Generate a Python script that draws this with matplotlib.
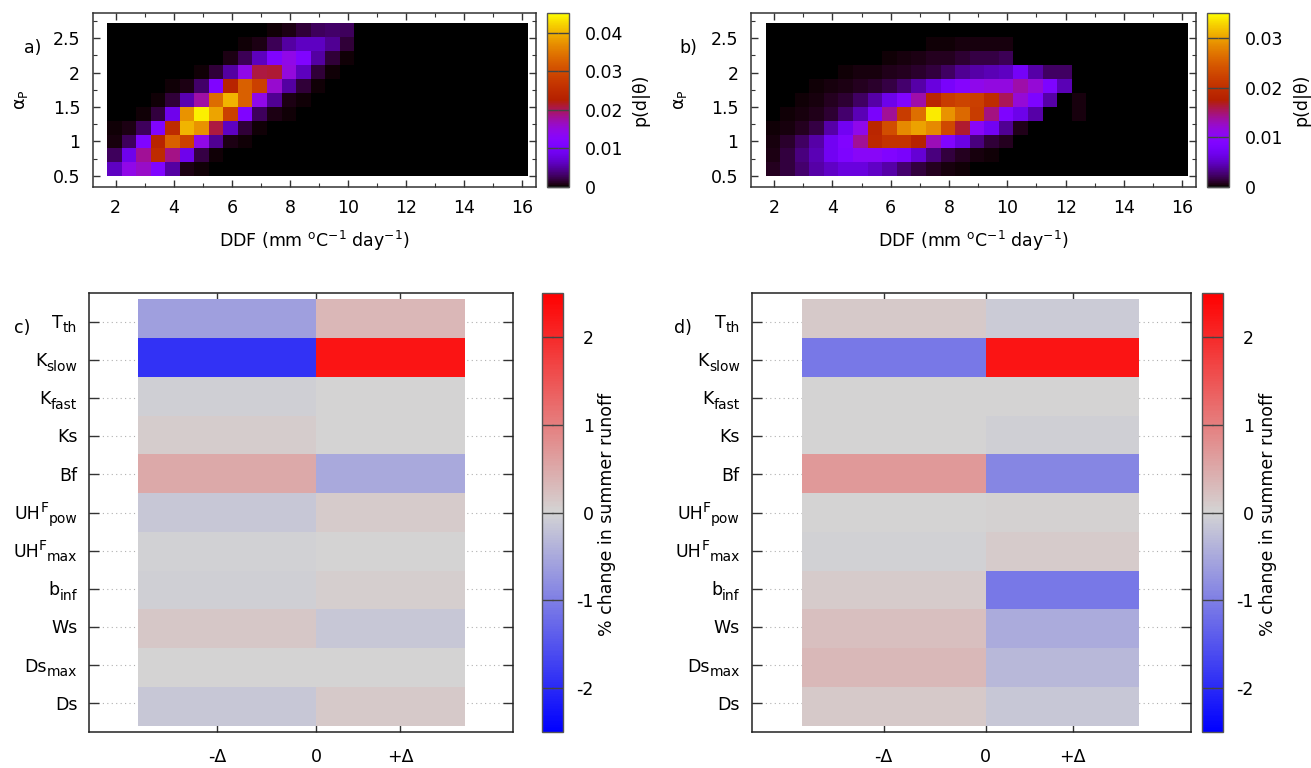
import numpy as np
import matplotlib
matplotlib.use('Agg')
import matplotlib.pyplot as plt
from matplotlib.colors import LinearSegmentedColormap
from matplotlib.ticker import MultipleLocator
from matplotlib.transforms import IdentityTransform

plt.rcParams['font.family'] = ['DejaVu Sans']
plt.rcParams['mathtext.fontset'] = 'dejavusans'
FS = 12.5

# ---------------- data: posterior p(d|theta), rows = alpha_P (0.6 .. 2.6), cols = DDF bins ----------------
pa_rows = [
    [.0063, .0144, .0160, .0113, .0050, .0007, .0002, .0001, 0, 0, 0, 0, 0, 0, 0, 0, 0, 0, 0, 0, 0, 0, 0, 0, 0, 0, 0, 0, 0],
    [.0028, .0086, .0180, .0248, .0185, .0086, .0020, .0002, .0001, 0, 0, 0, 0, 0, 0, 0, 0, 0, 0, 0, 0, 0, 0, 0, 0, 0, 0, 0, 0],
    [.0005, .0028, .0113, .0234, .0324, .0284, .0144, .0045, .0007, .0002, 0, 0, 0, 0, 0, 0, 0, 0, 0, 0, 0, 0, 0, 0, 0, 0, 0, 0, 0],
    [.0002, .0007, .0028, .0113, .0248, .0400, .0374, .0207, .0063, .0016, .0002, 0, 0, 0, 0, 0, 0, 0, 0, 0, 0, 0, 0, 0, 0, 0, 0, 0, 0],
    [0, 0, .0002, .0018, .0086, .0374, .0440, .0387, .0284, .0113, .0028, .0007, .0002, 0, 0, 0, 0, 0, 0, 0, 0, 0, 0, 0, 0, 0, 0, 0, 0],
    [0, 0, 0, .0002, .0016, .0055, .0175, .0338, .0400, .0324, .0144, .0045, .0007, .0002, 0, 0, 0, 0, 0, 0, 0, 0, 0, 0, 0, 0, 0, 0, 0],
    [0, 0, 0, 0, .0002, .0007, .0030, .0113, .0234, .0324, .0284, .0158, .0050, .0016, .0002, 0, 0, 0, 0, 0, 0, 0, 0, 0, 0, 0, 0, 0, 0],
    [0, 0, 0, 0, 0, 0, .0002, .0016, .0050, .0144, .0207, .0210, .0150, .0060, .0016, .0003, .0001, 0, 0, 0, 0, 0, 0, 0, 0, 0, 0, 0, 0],
    [0, 0, 0, 0, 0, 0, 0, 0, .0007, .0025, .0060, .0113, .0144, .0113, .0050, .0016, .0002, 0, 0, 0, 0, 0, 0, 0, 0, 0, 0, 0, 0],
    [0, 0, 0, 0, 0, 0, 0, 0, 0, .0002, .0007, .0025, .0050, .0063, .0063, .0045, .0016, 0, 0, 0, 0, 0, 0, 0, 0, 0, 0, 0, 0],
    [0, 0, 0, 0, 0, 0, 0, 0, 0, 0, 0, .0002, .0007, .0016, .0028, .0030, .0028, 0, 0, 0, 0, 0, 0, 0, 0, 0, 0, 0, 0],
]

pb_rows = [
    [.0008, .0015, .0025, .0040, .0050, .0060, .0060, .0050, .0040, .0025, .0015, .0008, .0004, .0002, .0001, 0, 0, 0, 0, 0, 0, 0, 0, 0, 0, 0, 0, 0, 0],
    [.0005, .0015, .0030, .0045, .0070, .0085, .0100, .0100, .0090, .0080, .0055, .0030, .0015, .0008, .0004, .0002, .0001, 0, 0, 0, 0, 0, 0, 0, 0, 0, 0, 0, 0],
    [.0004, .0010, .0022, .0040, .0070, .0090, .0140, .0190, .0205, .0205, .0180, .0130, .0090, .0062, .0030, .0013, .0008, 0, 0, 0, 0, 0, 0, 0, 0, 0, 0, 0, 0],
    [.0002, .0004, .0008, .0016, .0040, .0070, .0110, .0185, .0235, .0285, .0300, .0285, .0230, .0165, .0100, .0070, .0035, .0006, 0, 0, 0, 0, 0, 0, 0, 0, 0, 0, 0],
    [.0001, .0002, .0003, .0006, .0012, .0025, .0045, .0080, .0140, .0215, .0265, .0340, .0290, .0260, .0215, .0145, .0085, .0065, .0040, 0, 0, .0003, 0, 0, 0, 0, 0, 0, 0],
    [0, .0001, .0002, .0004, .0007, .0012, .0022, .0040, .0065, .0090, .0135, .0185, .0215, .0225, .0220, .0195, .0155, .0120, .0085, .0040, 0, .0003, 0, 0, 0, 0, 0, 0, 0],
    [0, 0, .0001, .0002, .0003, .0005, .0007, .0010, .0016, .0025, .0040, .0060, .0078, .0095, .0110, .0115, .0115, .0135, .0120, .0085, .0045, 0, 0, 0, 0, 0, 0, 0, 0],
    [0, 0, 0, 0, .0001, .0002, .0003, .0004, .0006, .0008, .0010, .0015, .0022, .0035, .0040, .0045, .0048, .0075, .0040, .0022, .0022, 0, 0, 0, 0, 0, 0, 0, 0],
    [0, 0, 0, 0, 0, 0, 0, .0001, .0002, .0003, .0005, .0007, .0008, .0012, .0016, .0016, .0020, 0, 0, 0, 0, 0, 0, 0, 0, 0, 0, 0, 0],
    [0, 0, 0, 0, 0, 0, 0, 0, 0, 0, .0001, .0002, .0002, .0003, .0004, .0004, .0003, 0, 0, 0, 0, 0, 0, 0, 0, 0, 0, 0, 0],
    [0] * 29,
]

# ---------------- data: sensitivity (% change in summer runoff) ----------------
# each parameter label as (text, kind) pieces: n = normal, sub = subscript, sup = superscript
params = [
    [('T', 'n'), ('th', 'sub')],
    [('K', 'n'), ('slow', 'sub')],
    [('K', 'n'), ('fast', 'sub')],
    [('Ks', 'n')],
    [('Bf', 'n')],
    [('UH', 'n'), ('F', 'sup'), ('pow', 'sub')],
    [('UH', 'n'), ('F', 'sup'), ('max', 'sub')],
    [('b', 'n'), ('inf', 'sub')],
    [('Ws', 'n')],
    [('Ds', 'n'), ('max', 'sub')],
    [('Ds', 'n')],
]
c_minus = [-0.62, -1.90, -0.05, 0.08, 0.50, -0.15, -0.03, -0.05, 0.15, 0.00, -0.15]
c_plus = [0.35, 2.25, 0.00, 0.00, -0.50, 0.10, 0.00, 0.07, -0.15, 0.00, 0.12]
d_minus = [0.12, -1.08, 0.00, 0.00, 0.70, 0.00, -0.02, 0.10, 0.24, 0.33, 0.12]
d_plus = [-0.10, 2.25, 0.00, -0.05, -0.90, 0.02, 0.10, -1.08, -0.47, -0.33, -0.15]
delta_labels = ['-Δ', '0', '+Δ']

# ---------------- layout ----------------
W, H = 1311, 768
fig = plt.figure(figsize=(W / 100, H / 100), dpi=100)
renderer = fig.canvas.get_renderer()
FRAME = '#333333'


def ax_px(l, t, r, b):
    return fig.add_axes([l / W, 1 - b / H, (r - l) / W, (b - t) / H])


def ftext(x, y, s, **kw):
    kw.setdefault('fontsize', FS)
    kw.setdefault('ha', 'center')
    kw.setdefault('va', 'center')
    fig.text(x / W, 1 - y / H, s, **kw)


def rich_label(x_right, y_base, pieces):
    """Right-aligned label in display pixels (origin bottom-left), gnuplot-style sub/superscripts."""
    x = x_right
    for text, kind in reversed(pieces):
        if kind == 'n':
            size, dy = FS, 0
        elif kind == 'sub':
            size, dy = FS * 0.8, -4.5
        else:
            size, dy = FS * 0.8, 6.5
        t = fig.text(x, y_base + dy, text, fontsize=size, ha='right', va='baseline',
                     transform=IdentityTransform())
        w = t.get_window_extent(renderer).width
        x -= w


ddf_edges = np.linspace(1.71, 16.21, 30)
alpha_edges = np.linspace(0.49, 2.72, 12)


def top_panel(l, r, data, vmax, cb_l, cb_ticks, letter, lx, ylab_x, cblab_x):
    ax = ax_px(l, 12.7, r, 186.7)
    m = ax.pcolormesh(ddf_edges, alpha_edges, np.array(data), cmap='gnuplot',
                      vmin=0, vmax=vmax, shading='flat')
    ax.set_xlim(1.21, 16.47)
    ax.set_ylim(0.34, 2.87)
    ax.xaxis.set_major_locator(MultipleLocator(2))
    ax.xaxis.set_minor_locator(MultipleLocator(1))
    ax.set_yticks([0.5, 1, 1.5, 2, 2.5])
    ax.set_yticklabels(['0.5', '1', '1.5', '2', '2.5'])
    ax.yaxis.set_minor_locator(MultipleLocator(0.25))
    ax.tick_params(which='both', direction='in', top=True, right=True, color=FRAME, labelsize=FS)
    ax.tick_params(which='major', length=5, width=1)
    ax.tick_params(which='minor', length=3, width=0.8)
    ax.tick_params(axis='x', pad=9)
    ax.tick_params(axis='y', pad=9)
    for s in ax.spines.values():
        s.set_color(FRAME)
        s.set_linewidth(1.1)
    cax = ax_px(cb_l, 13.3, cb_l + 22.6, 186.7)
    cb = fig.colorbar(m, cax=cax)
    cb.set_ticks(cb_ticks)
    cb.set_ticklabels(['%g' % t for t in cb_ticks])
    cax.tick_params(direction='in', length=8, width=1, color='#444444', left=True, right=True,
                    labelsize=FS, pad=11)
    cb.outline.set_edgecolor('#555555')
    cb.outline.set_linewidth(1.0)
    ftext(lx, 48, letter)
    ftext(ylab_x, 100, r'$\mathregular{α_{P}}$', rotation=90)
    ftext(cblab_x, 100, 'p(d|θ)', rotation=90)
    ftext((l + r) / 2, 241, r'DDF (mm $\mathregular{^{o}}$C$\mathregular{^{-1}}$ day$\mathregular{^{-1}}$)')
    return ax


top_panel(92.7, 536, pa_rows, 0.045, 546.7, [0, 0.01, 0.02, 0.03, 0.04], 'a)', 33, 21, 640)
top_panel(751, 1196, pb_rows, 0.035, 1206.7, [0, 0.01, 0.02, 0.03], 'b)', 688, 680, 1301)

# ---------------- bottom panels ----------------
sens_cmap = LinearSegmentedColormap.from_list('bgr', [(0, 0, 1), (0.83, 0.83, 0.83), (1, 0, 0)])
x_edges = [-1.2, 0.0, 1.0]
y_edges = np.linspace(-0.58, 10.58, 12)
x_tick_pos = [-0.665, 0.0, 0.565]


def bottom_panel(l, r, minus, plus, cb_l, letter, lx, cblab_x):
    ax = ax_px(l, 293.3, r, 731.7)
    z = np.column_stack([minus, plus])
    m = ax.pcolormesh(x_edges, y_edges, z, cmap=sens_cmap, vmin=-2.5, vmax=2.5, shading='flat')
    ax.set_xlim(-1.525, 1.325 if r < 600 else 1.335)
    ax.set_ylim(10.74, -0.74)
    ax.set_yticks(range(len(params)))
    ax.set_yticklabels([])
    ax.set_xticks(x_tick_pos)
    ax.set_xticklabels(delta_labels)
    ax.yaxis.grid(True, linestyle=(0, (1, 3)), color='#b0b0b0', linewidth=0.8)
    ax.set_axisbelow(True)
    ax.tick_params(axis='y', direction='in', length=7, width=1, left=True, right=True,
                   color=FRAME, labelsize=FS, pad=8.5)
    ax.tick_params(axis='x', direction='in', length=5, width=1, top=True, bottom=True,
                   color=FRAME, labelsize=FS, pad=12)
    for s in ax.spines.values():
        s.set_color('#222222')
        s.set_linewidth(1.1)
    # parameter names as tick labels
    for i, pieces in enumerate(params):
        _, yd = ax.transData.transform((0, i))
        rich_label(l - 12.0, yd - 6.3, pieces)
    cax = ax_px(cb_l, 293.3, cb_l + 21.6, 731.7)
    cb = fig.colorbar(m, cax=cax)
    ticks = [-2, -1, 0, 1, 2]
    cb.set_ticks(ticks)
    cb.set_ticklabels(['%g' % t for t in ticks])
    cax.tick_params(direction='in', length=8, width=1, color='#444444', left=True, right=True,
                    labelsize=FS, pad=22)
    for t in cax.get_yticklabels():
        t.set_horizontalalignment('right')
    cb.outline.set_edgecolor('#555555')
    cb.outline.set_linewidth(1.0)
    ftext(lx, 328, letter)
    ftext(cblab_x, 514, '% change in summer runoff', rotation=90)
    return ax


bottom_panel(89.3, 513.3, c_minus, c_plus, 541.7, 'c)', 22, 607)
bottom_panel(751.7, 1190.7, d_minus, d_plus, 1201.7, 'd)', 683, 1268)

fig.savefig('out.png', dpi=100)
